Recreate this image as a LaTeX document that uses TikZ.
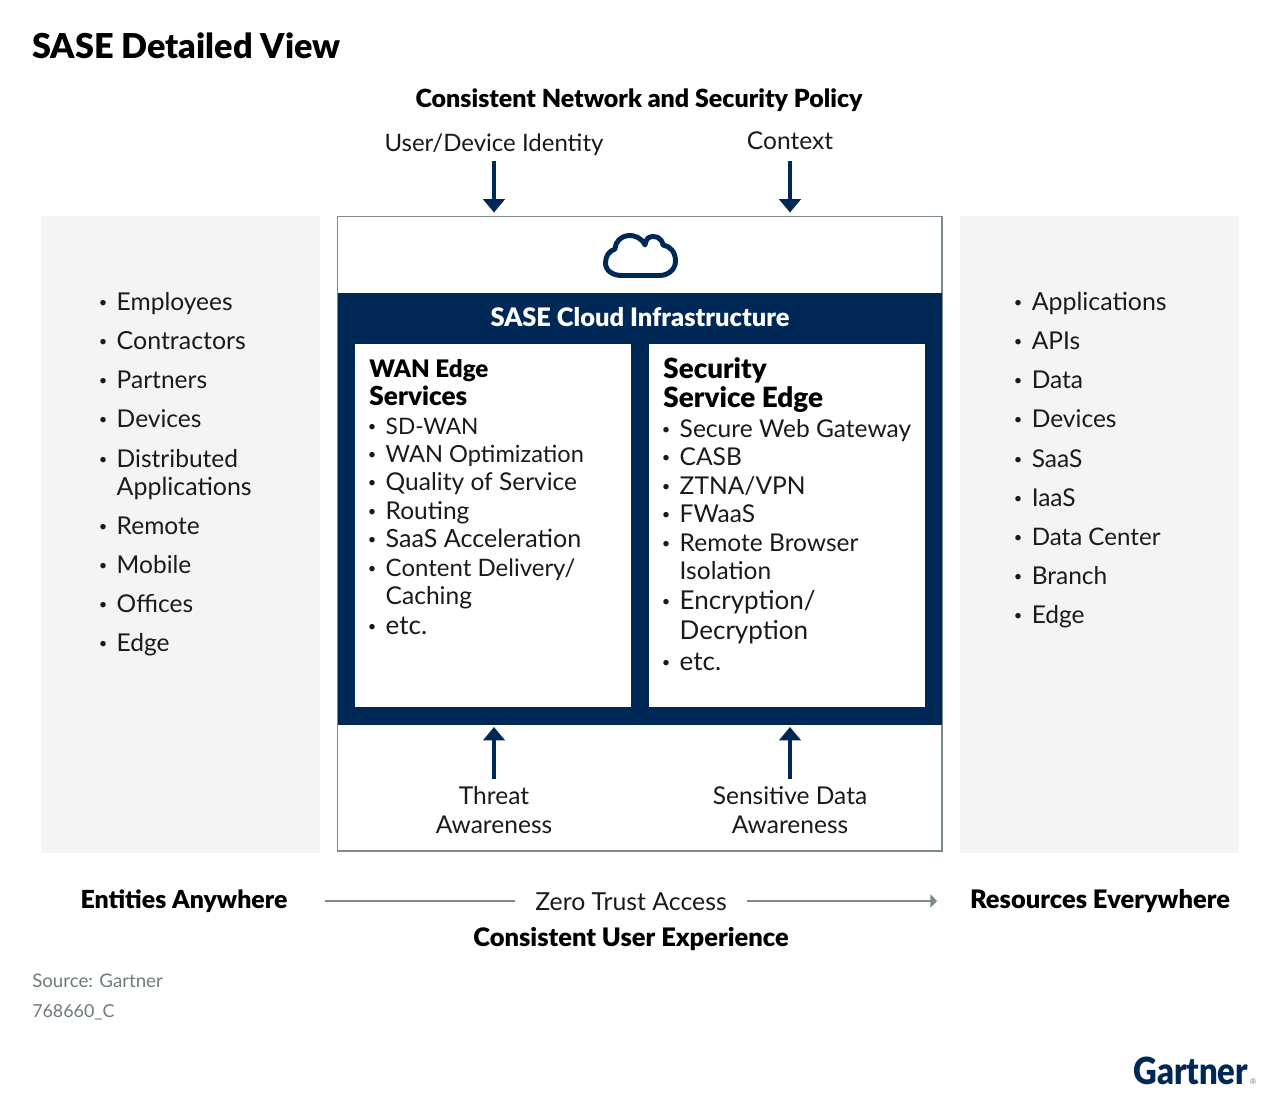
\documentclass[tikz,border=0pt]{standalone}
\usepackage{fontspec}
\setmainfont{Lato}
\newfontfamily\blk{Lato Black}
\usetikzlibrary{arrows.meta}
\definecolor{navy}{HTML}{002856}
\definecolor{panel}{HTML}{F4F4F4}
\definecolor{rule}{HTML}{7C8A8A}
\definecolor{ink}{HTML}{1A1A1A}
\definecolor{src}{HTML}{6F7B7B}
\newcommand\fs[1]{\fontsize{#1}{#1}\selectfont}
\tikzset{
 txt/.style={inner sep=0pt,anchor=base,text=ink,font=\fs{18.4}},
 lst/.style={inner sep=0pt,anchor=base west,xshift=-0.4pt,text=ink,font=\fs{18.4}},
 hd/.style={inner sep=0pt,anchor=base,text=black,font=\blk\fs{18.9}},
 sub/.style={inner sep=0pt,anchor=base west,xshift=-0.6pt,text=black,font=\blk\fs{19}},
 arr/.style={draw=navy,line width=2.4pt,-{Triangle[width=16pt,length=10pt]}},
 gline/.style={draw=rule,line width=1.2pt},
 panelbox/.style={fill=panel,inner sep=0pt,outer sep=0pt,minimum width=209.25pt,minimum height=477.75pt,anchor=north west},
 whitebox/.style={fill=white,inner sep=0pt,outer sep=0pt,minimum width=207pt,minimum height=272.25pt,anchor=north west},
}
\newcommand\bul{\llap{\raisebox{1.6pt}{\fontsize{11}{11}\selectfont •}\hspace{7pt}}}
\newcommand\li[4]{\node[lst] (#1) at (#2,#3) {\bul #4};}
\begin{document}
\begin{tikzpicture}[x=.75pt,y=-.75pt]
\useasboundingbox (0,0) rectangle (1280,1097);
\fill[white] (0,0) rectangle (1280,1097);
\node[inner sep=0pt,anchor=base west,text=black,font=\blk\fs{25.7}] (title) at (32,58) {SASE Detailed View};
\node[hd,font=\blk\fs{18.75}] (policy) at (639,107) {Consistent Network and Security Policy};
\node[txt,font=\fs{18}] (uid) at (494,151) {User/Device Identity};
\node[txt] (ctx) at (790,149) {Context};
% panels
\node[panelbox] (lp) at (41,216) {};
\node[panelbox] (rp) at (960,216) {};
\node[draw=rule,line width=1.3pt,fill=white,inner sep=0pt,outer sep=0pt,minimum width=453.4pt,minimum height=475.9pt,anchor=north west] (box) at (337.5,216.5) {};
\node[fill=navy,inner sep=0pt,outer sep=0pt,minimum width=453pt,minimum height=324pt,anchor=north west] (band) at (338,293) {};
\node[whitebox] (wan) at (355,344) {};
\node[whitebox] (sec) at (649,344) {};
% cloud
\draw[navy,line width=3.7pt,line join=round] (622,275.5) -- (659,275.5)
 .. controls (669,275.5) and (675.5,269) .. (675.5,261)
 .. controls (675.5,252) and (670,246) .. (663,245)
 .. controls (662,238) and (655,234) .. (648,238)
 .. controls (646,241) and (645,243) .. (645,245)
 .. controls (642,238) and (634,235) .. (629,235.5)
 .. controls (621,236) and (615,242) .. (615,249)
 .. controls (609,251) and (605.5,256) .. (605.5,263)
 .. controls (605.5,271) and (613,275.5) .. (622,275.5) -- cycle;
\node[inner sep=0pt,anchor=base,text=white,font=\blk\fs{19.1}] (infra) at (640,326) {SASE Cloud Infrastructure};
% arrows
\coordinate (a1) at (494,161); \coordinate (a2) at (790,161);
\coordinate (a3) at (494,779); \coordinate (a4) at (790,779);
\draw[arr,shorten >=3pt] (a1) -- (a1 |- box.north);
\draw[arr,shorten >=3pt] (a2) -- (a2 |- box.north);
\draw[arr,shorten >=1.5pt] (a3) -- (a3 |- band.south);
\draw[arr,shorten >=1.5pt] (a4) -- (a4 |- band.south);
\node[txt] (threat1) at (494,804) {Threat};
\node[txt] (threat2) at (494,833) {Awareness};
\node[txt] (sens1) at (790,804) {Sensitive Data};
\node[txt] (sens2) at (790,833) {Awareness};
% left list
\li{l1}{117}{310}{Employees}
\li{l2}{117}{349}{\fs{18.7}Contractors}
\li{l3}{117}{388}{Partners}
\li{l4}{117}{427}{Devices}
\li{l5}{117}{467}{Distributed}
\node[lst,font=\fs{18.7}] (l5b) at (117,495) {Applications};
\li{l6}{117}{534}{Remote}
\li{l7}{117}{573}{Mobile}
\li{l8}{117}{612}{Offices}
\li{l9}{117}{651}{Edge}
% right list
\li{r1}{1032}{310}{\fs{18.7}Applications}
\li{r2}{1032}{349}{APIs}
\li{r3}{1032}{388}{Data}
\li{r4}{1032}{427}{Devices}
\li{r5}{1032}{467}{SaaS}
\li{r6}{1032}{506}{IaaS}
\li{r7}{1032}{545}{\fs{18.1}Data Center}
\li{r8}{1032}{584}{Branch}
\li{r9}{1032}{623}{Edge}
% WAN
\node[sub,font=\blk\fs{18.1}] (w0) at (370,377) {WAN Edge};
\node[sub,font=\blk\fs{19.6}] (w0b) at (370,405) {Services};
\li{w1}{386}{434}{\fs{17}SD-WAN}
\li{w2}{386}{462}{\fs{17.7}WAN Optimization}
\li{w3}{386}{490}{Quality of Service}
\li{w4}{386}{519}{Routing}
\li{w5}{386}{547}{\fs{18.8}SaaS Acceleration}
\li{w6}{386}{576}{\fs{18}Content Delivery/}
\node[lst] (w6b) at (386,604) {Caching};
\li{w7}{386}{634}{\fs{19.5}etc.}
% Security
\node[sub,font=\blk\fs{20.8}] (s0) at (664,378) {Security};
\node[sub,font=\blk\fs{20.9}] (s0b) at (664,407) {Service Edge};
\li{s1}{680}{437}{Secure Web Gateway}
\li{s2}{680}{465}{CASB}
\li{s3}{680}{494}{ZTNA/VPN}
\li{s4}{680}{522}{FWaaS}
\li{s5}{680}{551}{Remote Browser}
\node[lst] (s5b) at (680,579) {Isolation};
\li{s6}{680}{609}{\fs{19.5}Encryption/}
\node[lst,font=\fs{19.5}] (s6b) at (680,639) {Decryption};
\li{s7}{680}{670}{\fs{19.5}etc.}
% bottom
\node[hd,font=\blk\fs{18.65}] (ent) at (184,908) {Entities Anywhere};
\node[hd,font=\blk\fs{19.1}] (res) at (1100,908) {Resources Everywhere};
\node[txt,inner xsep=15pt,font=\fs{18.6}] (zero) at (631,910) {Zero Trust Access};
\coordinate (z1) at (325,901); \coordinate (z2) at (937,901);
\draw[gline] (z1) -- (z1 -| zero.west);
\draw[gline,-{Triangle[width=10pt,length=5pt]}] (z1 -| zero.east) -- (z2);
\node[hd,font=\blk\fs{19.1}] (ux) at (631,946) {Consistent User Experience};
\node[inner sep=0pt,anchor=base west,text=src,font=\fs{14}] (source) at (32,987) {Source: Gartner};
\node[inner sep=0pt,anchor=base west,text=src,font=\fs{13.4}] (code) at (32,1017) {768660\_C};
\node[inner sep=0pt,anchor=base west,text=navy,font=\blk\fs{28}] (logo) at (1133,1084) {\scalebox{.88}[1]{Gartner}};
\node[inner sep=0pt,anchor=base west,text=rule,font=\fs{6}] (reg) at (1249.5,1084) {®};
\end{tikzpicture}
\end{document}
